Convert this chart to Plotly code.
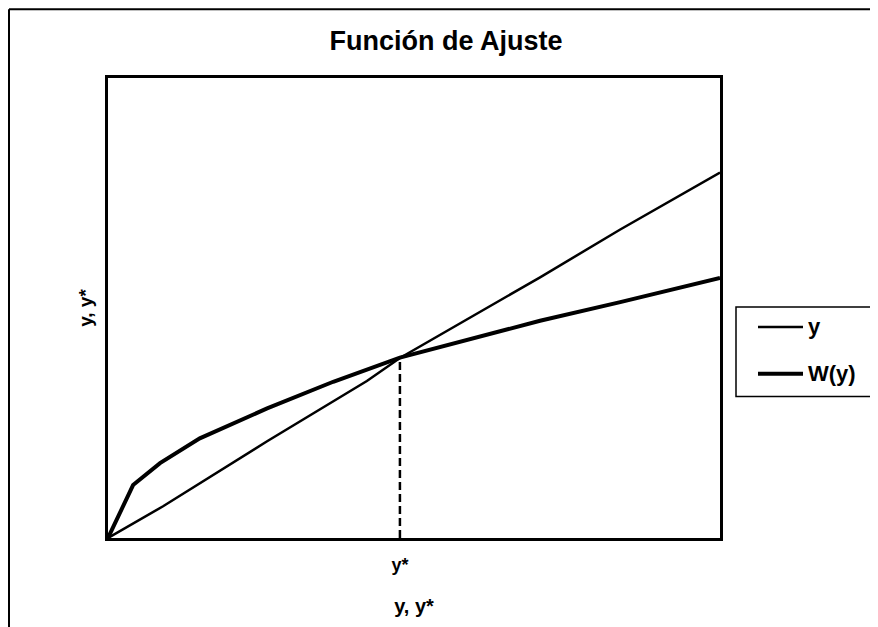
import plotly.graph_objects as go

# ---- data ----
x_y = [0, 9.0, 26.0, 42.3, 47.7, 59.2, 70.6, 83.7, 100]
y_y = [0, 8.7, 26.5, 43.0, 49.3, 60.5, 71.4, 84.5, 100.1]

x_w = [0, 4.1, 8.5, 15.0, 26.0, 36.8, 47.7, 60.8, 70.6, 83.7, 100]
y_w = [0, 14.5, 20.5, 27.3, 35.5, 42.8, 49.4, 55.1, 59.5, 64.6, 71.2]

Y_STAR_X = 47.7
Y_STAR_Y = 49.3
tick_vals = [Y_STAR_X]
tick_text = ["<b>y*</b>"]

series_names = ["y", "W(y)"]
series_widths = [2.5, 4]

FONT = "Liberation Sans, Arial, sans-serif"

# page offset of 8px (body margin) is compensated in the layout below
W_FIG, H_FIG = 870, 619
L, T = 100, 70
PW, PH = 612, 462


def px(xpage):
    return (xpage - 108) / PW


def py(ypage):
    return (540 - ypage) / PH


fig = go.Figure()
fig.add_trace(go.Scatter(x=x_y, y=y_y, mode="lines", name=series_names[0],
                         line=dict(color="black", width=series_widths[0])))
fig.add_trace(go.Scatter(x=x_w, y=y_w, mode="lines", name=series_names[1],
                         line=dict(color="black", width=series_widths[1])))

fig.add_shape(type="line", xref="x", yref="y", x0=Y_STAR_X, x1=Y_STAR_X,
              y0=0, y1=Y_STAR_Y,
              line=dict(color="black", width=2.5, dash="8px,4px"))

# outer frame of the figure (partially cropped in reference)
fig.add_shape(type="line", xref="paper", yref="paper",
              x0=px(9), x1=px(900), y0=py(9), y1=py(9),
              line=dict(color="black", width=2))
fig.add_shape(type="line", xref="paper", yref="paper",
              x0=px(9), x1=px(9), y0=py(9), y1=py(660),
              line=dict(color="black", width=2))

# legend box (extends past the right edge, as in the reference)
fig.add_shape(type="rect", xref="paper", yref="paper",
              x0=px(736), x1=px(900), y0=py(308), y1=py(398),
              line=dict(color="black", width=1.5), fillcolor="white")
for i, (nm, wd) in enumerate(zip(series_names, series_widths)):
    yy = 328 + 47 * i
    fig.add_shape(type="line", xref="paper", yref="paper",
                  x0=px(758), x1=px(803), y0=py(yy), y1=py(yy),
                  line=dict(color="black", width=wd))
    fig.add_annotation(xref="paper", yref="paper", x=px(806), y=py(yy),
                       xanchor="left", yanchor="middle", showarrow=False,
                       text="<b>" + nm + "</b>",
                       font=dict(size=22, family=FONT, color="black"))

fig.update_layout(
    width=W_FIG, height=H_FIG,
    margin=dict(l=L, r=W_FIG - L - PW, t=T, b=H_FIG - T - PH),
    paper_bgcolor="white", plot_bgcolor="white",
    font=dict(family=FONT, color="black"),
    title=dict(text="<b>Función de Ajuste</b>", x=438 / W_FIG, xanchor="center",
               y=1 - 33 / H_FIG, yanchor="middle",
               font=dict(size=27, family=FONT, color="black")),
    showlegend=False,
)
fig.update_xaxes(range=[0, 100], showgrid=False, zeroline=False,
                 showline=True, linecolor="black", linewidth=3, mirror=True,
                 tickvals=tick_vals, ticktext=tick_text, ticks="",
                 ticklabelstandoff=8,
                 tickfont=dict(size=18, family=FONT, color="black"),
                 title=dict(text="<b>y, y*</b>", standoff=26,
                            font=dict(size=20, family=FONT, color="black")))
fig.update_yaxes(range=[0, 126], showgrid=False, zeroline=False,
                 showline=True, linecolor="black", linewidth=3, mirror=True,
                 showticklabels=False, ticks="",
                 title=dict(text="<b>y, y*</b>", standoff=8,
                            font=dict(size=19, family=FONT, color="black")))

fig.write_html("out.html")
